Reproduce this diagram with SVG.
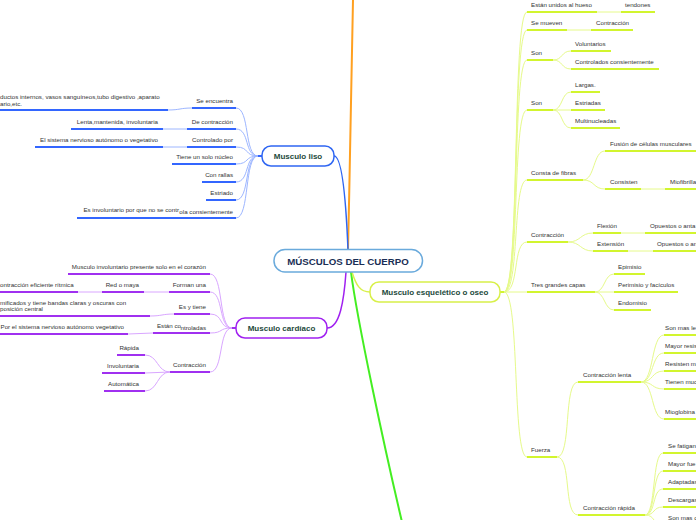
<svg xmlns="http://www.w3.org/2000/svg" width="696" height="520" viewBox="0 0 696 520">
<style>
.t{font-family:"Liberation Sans",Arial,sans-serif;font-size:6.2px;fill:#333}
.e{text-anchor:end}
.n{font-family:"Liberation Sans",Arial,sans-serif;font-weight:bold;font-size:8px;fill:#1d4a3c;text-anchor:middle}
.ub{stroke:#3366ff;stroke-width:2;fill:none}
.cb{stroke:#9db6ff;stroke-width:1;fill:none}
.up{stroke:#a030f0;stroke-width:2;fill:none}
.cp{stroke:#d9a6ff;stroke-width:1;fill:none}
.uy{stroke:#d2f52e;stroke-width:2;fill:none}
.cy{stroke:#e6fa8a;stroke-width:1;fill:none}
</style>
<rect width="696" height="520" fill="#fff"/>
<g id="connectors">
<path d="M348,250 C350,160 352,60 353,0" stroke="#ffa020" stroke-width="2" fill="none"/>
<path d="M351,272 C357,320 385,450 402,522" stroke="#44ee22" stroke-width="2" fill="none"/>
<path d="M334,156 C342,156 346,200 348,250" stroke="#2f66f2" stroke-width="1.5" fill="none"/>
<path d="M346,272 C344,300 340,328 327,328" stroke="#a020f0" stroke-width="1.5" fill="none"/>
<path d="M352,272 C356,285 360,292 370,292" stroke="#d8f04a" stroke-width="1.5" fill="none"/>
<line x1="255" y1="156" x2="262" y2="156" stroke="#3366ff" stroke-width="2"/>
<path class="cb" d="M236,108 C250,108 244,156 258,156"/>
<path class="cb" d="M236,129 C250,129 244,156 258,156"/>
<path class="cb" d="M236,147 C250,147 244,156 258,156"/>
<path class="cb" d="M236,164 C250,164 244,156 258,156"/>
<path class="cb" d="M236,182 C250,182 244,156 258,156"/>
<path class="cb" d="M236,200 C250,200 244,156 258,156"/>
<path class="cb" d="M236,218 C250,218 244,156 258,156"/>
<path class="cb" d="M168,110 C180,110 180,108 192,108"/>
<path class="cb" d="M163,129 L187,129"/>
<path class="cb" d="M163,147 L187,147"/>
<line x1="229" y1="328" x2="236" y2="328" stroke="#a030f0" stroke-width="2"/>
<path class="cp" d="M210,274 C224,274 218,328 232,328"/>
<path class="cp" d="M210,292 C224,292 218,328 232,328"/>
<path class="cp" d="M210,314 C224,314 218,328 232,328"/>
<path class="cp" d="M210,333 C224,333 218,328 232,328"/>
<path class="cp" d="M210,372 C224,372 218,328 232,328"/>
<path class="cp" d="M78,292 L102,292"/>
<path class="cp" d="M144,292 L169,292"/>
<path class="cp" d="M150,316 C162,316 162,314 174,314"/>
<path class="cp" d="M128,334 L153,333"/>
<path class="cp" d="M145,355 C158,355 157,372 170,372"/>
<path class="cp" d="M145,373 L170,372"/>
<path class="cp" d="M145,391 C158,391 157,372 170,372"/>
<line x1="500" y1="292" x2="506" y2="292" stroke="#d2f52e" stroke-width="2"/>
<path class="cy" d="M504,292 C520,292 512,12 527,12"/>
<path class="cy" d="M504,292 C520,292 512,30 527,30"/>
<path class="cy" d="M504,292 C520,292 512,60 527,60"/>
<path class="cy" d="M504,292 C520,292 512,110 527,110"/>
<path class="cy" d="M504,292 C520,292 512,180 527,180"/>
<path class="cy" d="M504,292 C520,292 512,242 527,242"/>
<path class="cy" d="M504,292 L527,292"/>
<path class="cy" d="M504,292 C520,292 512,457 527,457"/>
<path class="cy" d="M597,12 L621,12"/>
<path class="cy" d="M567,30 L591,30"/>
<path class="cy" d="M553,60 C563,60 561,51 571,51"/>
<path class="cy" d="M553,60 C563,60 561,69 571,69"/>
<path class="cy" d="M553,110 C563,110 561,92 571,92"/>
<path class="cy" d="M553,110 L571,110"/>
<path class="cy" d="M553,110 C563,110 561,128 571,128"/>
<path class="cy" d="M583,180 C595,180 593,151 605,151"/>
<path class="cy" d="M583,180 C595,180 593,189 605,189"/>
<path class="cy" d="M641,189 L665,189"/>
<path class="cy" d="M568,242 C581,242 580,233 593,233"/>
<path class="cy" d="M568,242 C581,242 580,251 593,251"/>
<path class="cy" d="M621,233 L645,233"/>
<path class="cy" d="M628,251 L653,251"/>
<path class="cy" d="M595,292 C605,292 604,274 614,274"/>
<path class="cy" d="M595,292 L614,292"/>
<path class="cy" d="M595,292 C605,292 604,310 614,310"/>
<path class="cy" d="M557,457 C572,457 563,382 578,382"/>
<path class="cy" d="M557,457 C572,457 563,515 578,515"/>
<path class="cy" d="M641,382 C654,382 651,335 664,335"/>
<path class="cy" d="M641,382 C654,382 651,353 664,353"/>
<path class="cy" d="M641,382 C654,382 651,371 664,371"/>
<path class="cy" d="M641,382 C654,382 651,389 664,389"/>
<path class="cy" d="M641,382 C654,382 651,419 664,419"/>
<path class="cy" d="M645,515 C656,515 652,453 663,453"/>
<path class="cy" d="M645,515 C656,515 652,471 663,471"/>
<path class="cy" d="M645,515 C656,515 652,489 663,489"/>
<path class="cy" d="M645,515 C656,515 652,507 663,507"/>
<path class="cy" d="M645,515 C656,515 652,525 663,525"/>
</g>
<g id="central">
<rect x="274" y="249.5" width="148.5" height="22.5" rx="11" fill="#fff" stroke="#6aaadc" stroke-width="1.5"/>
<text x="348" y="264.5" font-family="Liberation Sans,Arial,sans-serif" font-weight="bold" font-size="9.7" fill="#1a2e55" text-anchor="middle">MÚSCULOS DEL CUERPO</text>
</g>
<g id="liso">
<rect x="262" y="146" width="72" height="20" rx="9" fill="#fff" stroke="#2f66f2" stroke-width="1.5"/>
<text class="n" x="298" y="159">Musculo liso</text>
</g>
<g id="cardiaco">
<rect x="236" y="318" width="91" height="20" rx="9" fill="#fff" stroke="#a020f0" stroke-width="1.5"/>
<text class="n" x="281.5" y="331">Musculo cardíaco</text>
</g>
<g id="esqueletico">
<rect x="370" y="282" width="130" height="20" rx="9" fill="#fff" stroke="#d8f04a" stroke-width="1.5"/>
<text class="n" x="435" y="295">Musculo esquelético o oseo</text>
</g>
<g id="liso-children">
<g id="l1"><text class="t e" x="233" y="103">Se encuentra</text><path class="ub" d="M192,108 H236"/></g>
<g id="l1a"><text class="t" x="0" y="99">ductos internos, vasos sanguíneos,tubo digestivo ,aparato</text><text class="t" x="0" y="105.5">ario,etc.</text><path class="ub" d="M0,110 H168"/></g>
<g id="l2"><text class="t e" x="233" y="124">De contracción</text><path class="ub" d="M187,129 H236"/></g>
<g id="l2a"><text class="t e" x="158" y="124">Lenta,mantenida, involuntaria</text><path class="ub" d="M71,129 H163"/></g>
<g id="l3"><text class="t e" x="233" y="142">Controlado por</text><path class="ub" d="M187,147 H236"/></g>
<g id="l3a"><text class="t e" x="158" y="142">El sistema nervioso autónomo o vegetativo</text><path class="ub" d="M35,147 H163"/></g>
<g id="l4"><text class="t e" x="233" y="159">Tiene un solo núcleo</text><path class="ub" d="M172,164 H236"/></g>
<g id="l5"><text class="t e" x="233" y="177">Con rallas</text><path class="ub" d="M202,182 H236"/></g>
<g id="l6"><text class="t e" x="233" y="195">Estriado</text><path class="ub" d="M206,200 H236"/></g>
<g id="l7"><text class="t e" x="179" y="212">Es involuntario por que no se contr</text><text class="t e" x="233" y="213.7">ola consientemente</text><path class="ub" d="M77,218 H236"/></g>
</g>
<g id="cardiaco-children">
<g id="c1"><text class="t e" x="206" y="269">Musculo involuntario presente solo en el corazón</text><path class="up" d="M68,274 H210"/></g>
<g id="c2"><text class="t e" x="206" y="287">Forman una</text><path class="up" d="M169,292 H210"/></g>
<g id="c2a"><text class="t e" x="139" y="287">Red o maya</text><path class="up" d="M102,292 H144"/></g>
<g id="c2b"><text class="t" x="0" y="287">ontracción eficiente rítmica</text><path class="up" d="M0,292 H78"/></g>
<g id="c3"><text class="t e" x="206" y="309">Es y tiene</text><path class="up" d="M174,314 H210"/></g>
<g id="c3a"><text class="t" x="0" y="304.5">mificados y tiene bandas claras y oscuras con</text><text class="t" x="0" y="311">posición central</text><path class="up" d="M0,316 H150"/></g>
<g id="c4"><text class="t e" x="181" y="328">Están co</text><text class="t e" x="206" y="329.7">ntroladas</text><path class="up" d="M153,333 H210"/></g>
<g id="c4a"><text class="t e" x="124" y="329">Por el sistema nervioso autónomo vegetativo</text><path class="up" d="M0,334 H128"/></g>
<g id="c5"><text class="t e" x="206" y="367">Contracción</text><path class="up" d="M170,372 H210"/></g>
<g id="c5a"><text class="t e" x="139" y="350">Rápida</text><path class="up" d="M117,355 H145"/></g>
<g id="c5b"><text class="t e" x="139" y="368">Involuntaria</text><path class="up" d="M102,373 H145"/></g>
<g id="c5c"><text class="t e" x="139" y="386">Automática</text><path class="up" d="M104,391 H145"/></g>
</g>
<g id="esqueletico-children">
<g id="e1"><text class="t" x="531" y="7">Están unidos al hueso</text><path class="uy" d="M527,12 H597"/></g>
<g id="e1a"><text class="t" x="625" y="7">tendones</text><path class="uy" d="M621,12 H655"/></g>
<g id="e2"><text class="t" x="531" y="25">Se mueven</text><path class="uy" d="M527,30 H567"/></g>
<g id="e2a"><text class="t" x="596" y="25">Contracción</text><path class="uy" d="M591,30 H633"/></g>
<g id="e3"><text class="t" x="531" y="55">Son</text><path class="uy" d="M527,60 H553"/></g>
<g id="e3a"><text class="t" x="575" y="46">Voluntarios</text><path class="uy" d="M571,51 H611"/></g>
<g id="e3b"><text class="t" x="575" y="64">Controlados consientemente</text><path class="uy" d="M571,69 H659"/></g>
<g id="e4"><text class="t" x="531" y="105">Son</text><path class="uy" d="M527,110 H553"/></g>
<g id="e4a"><text class="t" x="575" y="87">Largas.</text><path class="uy" d="M571,92 H600"/></g>
<g id="e4b"><text class="t" x="575" y="105">Estriadas</text><path class="uy" d="M571,110 H605"/></g>
<g id="e4c"><text class="t" x="575" y="123">Multinucleadas</text><path class="uy" d="M571,128 H620"/></g>
<g id="e5"><text class="t" x="531" y="175">Consta de fibras</text><path class="uy" d="M527,180 H583"/></g>
<g id="e5a"><text class="t" x="610" y="146">Fusión de células musculares</text><path class="uy" d="M605,151 H696"/></g>
<g id="e5b"><text class="t" x="610" y="184">Consisten</text><path class="uy" d="M605,189 H641"/></g>
<g id="e5c"><text class="t" x="670" y="184">Miofibrilla</text><path class="uy" d="M665,189 H696"/></g>
<g id="e6"><text class="t" x="531" y="237">Contracción</text><path class="uy" d="M527,242 H568"/></g>
<g id="e6a"><text class="t" x="597" y="228">Flexión</text><path class="uy" d="M593,233 H621"/></g>
<g id="e6b"><text class="t" x="650" y="228">Opuestos o anta</text><path class="uy" d="M645,233 H696"/></g>
<g id="e6c"><text class="t" x="597" y="246">Extensión</text><path class="uy" d="M593,251 H628"/></g>
<g id="e6d"><text class="t" x="657" y="246">Opuestos o an</text><path class="uy" d="M653,251 H696"/></g>
<g id="e7"><text class="t" x="531" y="287">Tres grandes capas</text><path class="uy" d="M527,292 H595"/></g>
<g id="e7a"><text class="t" x="618" y="269">Epimisio</text><path class="uy" d="M614,274 H645"/></g>
<g id="e7b"><text class="t" x="618" y="287">Perimisio y facículos</text><path class="uy" d="M614,292 H678"/></g>
<g id="e7c"><text class="t" x="618" y="305">Endomisio</text><path class="uy" d="M614,310 H651"/></g>
<g id="e8"><text class="t" x="531" y="452">Fuerza</text><path class="uy" d="M527,457 H557"/></g>
<g id="e8a"><text class="t" x="583" y="377">Contracción lenta</text><path class="uy" d="M578,382 H641"/></g>
<g id="e8a1"><text class="t" x="665" y="330">Son mas le</text><path class="uy" d="M664,335 H696"/></g>
<g id="e8a2"><text class="t" x="665" y="348">Mayor resis</text><path class="uy" d="M664,353 H696"/></g>
<g id="e8a3"><text class="t" x="665" y="366">Resisten ma</text><path class="uy" d="M664,371 H696"/></g>
<g id="e8a4"><text class="t" x="665" y="384">Tienen muc</text><path class="uy" d="M664,389 H696"/></g>
<g id="e8a5"><text class="t" x="665" y="414">Mioglobina</text><path class="uy" d="M664,419 H696"/></g>
<g id="e8b"><text class="t" x="583" y="510">Contracción rápida</text><path class="uy" d="M578,515 H645"/></g>
<g id="e8b1"><text class="t" x="668" y="448">Se fatigan</text><path class="uy" d="M663,453 H696"/></g>
<g id="e8b2"><text class="t" x="668" y="466">Mayor fue</text><path class="uy" d="M663,471 H696"/></g>
<g id="e8b3"><text class="t" x="668" y="484">Adaptadas</text><path class="uy" d="M663,489 H696"/></g>
<g id="e8b4"><text class="t" x="668" y="502">Descargas</text><path class="uy" d="M663,507 H696"/></g>
<g id="e8b5"><text class="t" x="668" y="520">Son mas c</text></g>
</g>
</svg>
